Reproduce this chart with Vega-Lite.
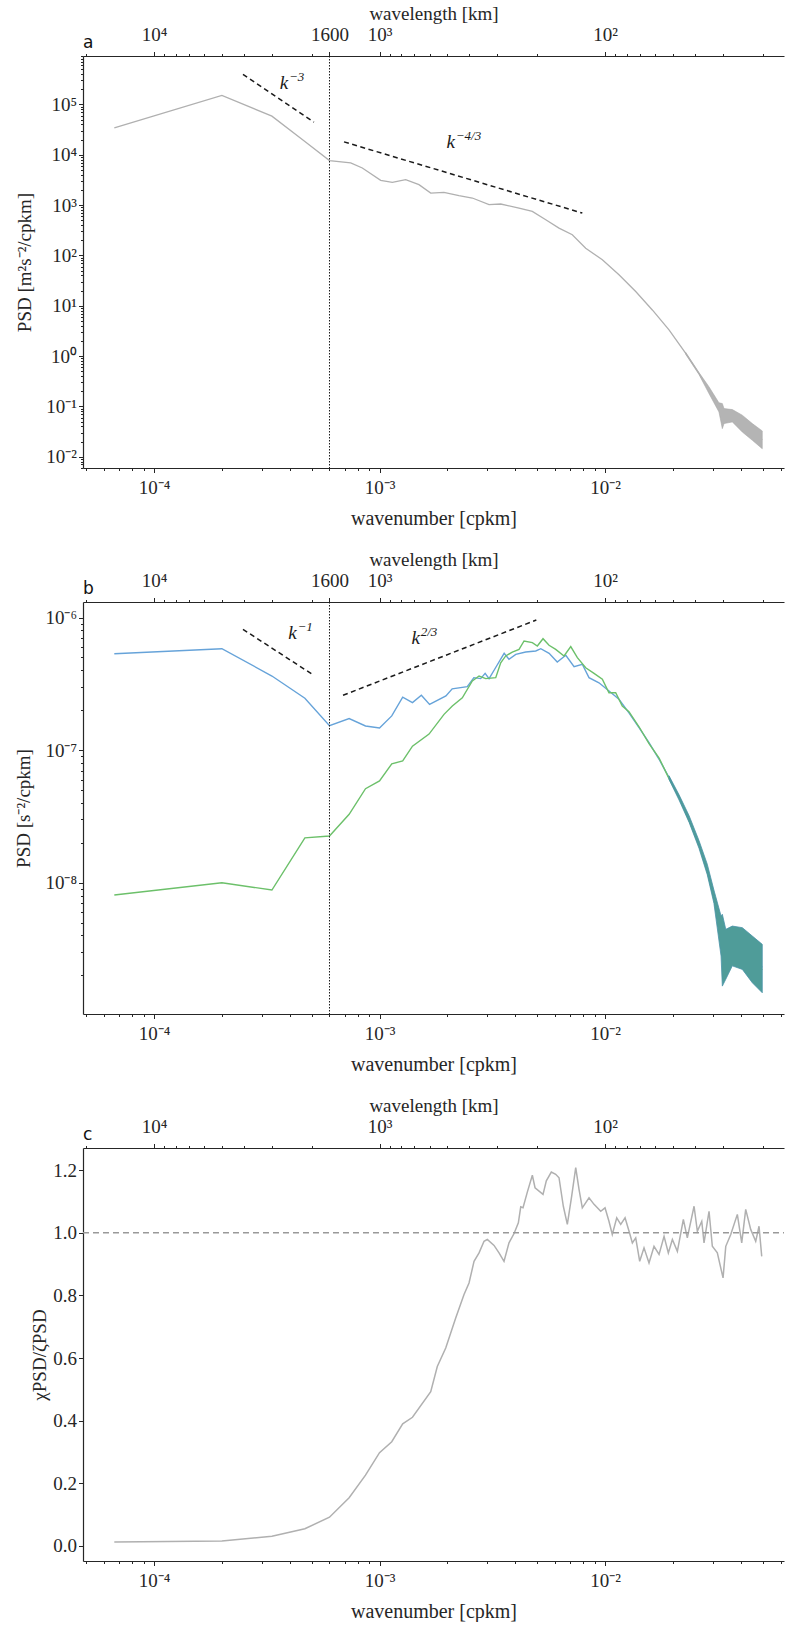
{
"$schema": "https://vega.github.io/schema/vega-lite/v6.json",
"padding": {"left": 14, "top": 4, "right": 0, "bottom": 0},
"spacing": 21,
"config": {
 "view": {"stroke": null},
 "font": "Liberation Serif",
 "axis": {"grid": false, "labelFont": "Liberation Serif", "labelFontSize": 19, "labelColor": "#262626", "titleFont": "Liberation Serif", "titleFontSize": 19, "titleFontWeight": "normal", "titleColor": "#262626", "domainColor": "#262626", "domainWidth": 1.2, "tickColor": "#262626", "tickWidth": 1, "tickSize": 4.5, "labelOverlap": false, "labelFlush": false}
},
"vconcat": [
{
 "width": 701, "height": 412,
 "resolve": {"axis": {"x": "independent", "y": "independent"}},
 "layer": [
  {
   "data": {"values": [
    {"k":6.667e-5,"v":34200},{"k":2.0e-4,"v":151000},{"k":3.333e-4,"v":58500},{"k":4.667e-4,"v":18300},{"k":6.0e-4,"v":7660},{"k":7.45e-4,"v":6870},{"k":8.39e-4,"v":5460},{"k":1.012e-3,"v":3100},{"k":1.14e-3,"v":2830},{"k":1.306e-3,"v":3210},{"k":1.496e-3,"v":2550},{"k":1.687e-3,"v":1730},{"k":1.93e-3,"v":1790},{"k":2.25e-3,"v":1540},{"k":2.58e-3,"v":1380},{"k":3.06e-3,"v":1020},{"k":3.45e-3,"v":1050},{"k":4.155e-3,"v":871},{"k":4.76e-3,"v":749},{"k":5.46e-3,"v":512},{"k":6.25e-3,"v":348},{"k":7.16e-3,"v":257},{"k":8.21e-3,"v":139},{"k":9.73e-3,"v":81.7},{"k":1.153e-2,"v":41.1},{"k":1.368e-2,"v":19.1},{"k":1.621e-2,"v":8.24},{"k":1.922e-2,"v":3.3},{"k":2.28e-2,"v":1.13},{"k":2.61e-2,"v":0.45},{"k":2.89e-2,"v":0.21},{"k":3.2e-2,"v":0.096},{"k":3.313e-2,"v":0.064},{"k":3.37e-2,"v":0.064},{"k":3.67e-2,"v":0.065},{"k":4.06e-2,"v":0.045},{"k":4.5e-2,"v":0.031},{"k":4.98e-2,"v":0.0216}
   ]},
   "mark": {"type": "line", "color": "#b0b0b0", "strokeWidth": 1.3},
   "encoding": {
    "x": {"field": "k", "type": "quantitative", "scale": {"type": "log", "domain": [4.843e-5, 0.06218], "nice": false},
          "axis": {"orient": "bottom", "values": [1e-4, 1e-3, 1e-2], "labelExpr": "datum.value < 0.0005 ? '10⁻⁴' : datum.value < 0.005 ? '10⁻³' : '10⁻²'", "title": "wavenumber [cpkm]", "titleFontSize": 20, "labelPadding": 6, "titlePadding": 11}},
    "y": {"field": "v", "type": "quantitative", "scale": {"type": "log", "domain": [5.96e-3, 9.16e5], "nice": false},
          "axis": {"orient": "left", "values": [0.01, 0.1, 1, 10, 100, 1000, 10000, 100000], "labelExpr": "['10⁻²','10⁻¹','10⁰','10¹','10²','10³','10⁴','10⁵'][round(log(datum.value)/LN10)+2]", "title": "PSD [m²s⁻²/cpkm]", "titlePadding": 11}}
   }
  },
  {
   "data": {"values": [
    {"k":2.28e-2,"lo":1.08,"hi":1.18},{"k":2.61e-2,"lo":0.43,"hi":0.47},{"k":2.89e-2,"lo":0.18,"hi":0.245},{"k":3.2e-2,"lo":0.0776,"hi":0.1175},{"k":3.313e-2,"lo":0.0361,"hi":0.1138},{"k":3.37e-2,"lo":0.0454,"hi":0.0904},{"k":3.67e-2,"lo":0.0491,"hi":0.0863},{"k":4.06e-2,"lo":0.031,"hi":0.0668},{"k":4.5e-2,"lo":0.0212,"hi":0.0454},{"k":4.98e-2,"lo":0.0144,"hi":0.0325}
   ]},
   "mark": {"type": "area", "color": "#b4b4b4", "stroke": "#aaaaaa", "strokeWidth": 0.6},
   "encoding": {
    "x": {"field": "k", "type": "quantitative", "scale": {"type": "log", "domain": [4.843e-5, 0.06218], "nice": false},
          "axis": {"orient": "bottom", "values": [5e-5,6e-5,7e-5,8e-5,9e-5,2e-4,3e-4,4e-4,5e-4,6e-4,7e-4,8e-4,9e-4,2e-3,3e-3,4e-3,5e-3,6e-3,7e-3,8e-3,9e-3,2e-2,3e-2,4e-2,5e-2,6e-2], "labels": false, "domain": false, "tickSize": 2.5, "title": null}},
    "y": {"field": "lo", "type": "quantitative", "scale": {"type": "log", "domain": [5.96e-3, 9.16e5], "nice": false},
          "axis": {"orient": "left", "values": [0.006,0.007,0.008,0.009,0.02,0.03,0.04,0.05,0.06,0.07,0.08,0.09,0.2,0.3,0.4,0.5,0.6,0.7,0.8,0.9,2,3,4,5,6,7,8,9,20,30,40,50,60,70,80,90,200,300,400,500,600,700,800,900,2000,3000,4000,5000,6000,7000,8000,9000,20000,30000,40000,50000,60000,70000,80000,90000,200000,300000,400000,500000,600000,700000,800000,900000], "labels": false, "domain": false, "tickSize": 2.5, "title": null}},
    "y2": {"field": "hi"}
   }
  },
  {
   "data": {"values": [
    {"seg":1,"k":2.48e-4,"v":396000},{"seg":1,"k":5.12e-4,"v":44400},{"seg":2,"k":6.96e-4,"v":18000},{"seg":2,"k":7.93e-3,"v":693}
   ]},
   "mark": {"type": "line", "color": "#1a1a1a", "strokeWidth": 1.5, "strokeDash": [5, 3.5]},
   "encoding": {
    "x": {"field": "k", "type": "quantitative", "scale": {"type": "log", "domain": [4.843e-5, 0.06218], "nice": false},
          "axis": {"orient": "top", "values": [1e-4, 6e-4, 1e-3, 1e-2], "labelExpr": "datum.value < 0.0002 ? '10⁴' : datum.value < 0.0008 ? '1600' : datum.value < 0.005 ? '10³' : '10²'", "title": "wavelength [km]", "labelPadding": 7, "titlePadding": 2}},
    "y": {"field": "v", "type": "quantitative", "scale": {"type": "log", "domain": [5.96e-3, 9.16e5], "nice": false}, "axis": null},
    "detail": {"field": "seg"}
   }
  },
  {
   "data": {"values": [{"k": 6.0e-4}]},
   "mark": {"type": "rule", "color": "#1a1a1a", "strokeWidth": 1, "strokeDash": [1.5, 1.5]},
   "encoding": {
    "x": {"field": "k", "type": "quantitative", "scale": {"type": "log", "domain": [4.843e-5, 0.06218], "nice": false},
          "axis": {"orient": "top", "values": [5e-5,1.11111e-4,1.25e-4,1.42857e-4,1.66667e-4,2e-4,2.5e-4,3.33333e-4,5e-4,1.11111e-3,1.25e-3,1.42857e-3,1.66667e-3,2e-3,2.5e-3,3.33333e-3,5e-3,1.11111e-2,1.25e-2,1.42857e-2,1.66667e-2,2e-2,2.5e-2,3.33333e-2,5e-2], "labels": false, "domain": false, "tickSize": 2.5, "title": null}}
   }
  },
  {
   "data": {"values": [{"k":3.77e-4,"v":202000,"e":"−3"},{"k":2.07e-3,"v":13460,"e":"−4/3"}]},
   "mark": {"type": "text", "text": "k", "font": "Liberation Serif", "fontStyle": "italic", "fontSize": 19, "align": "center", "baseline": "alphabetic", "color": "#1a1a1a"},
   "encoding": {
    "x": {"field": "k", "type": "quantitative", "scale": {"type": "log", "domain": [4.843e-5, 0.06218], "nice": false}, "axis": null},
    "y": {"field": "v", "type": "quantitative", "scale": {"type": "log", "domain": [5.96e-3, 9.16e5], "nice": false}, "axis": null}
   }
  },
  {
   "data": {"values": [{"k":3.77e-4,"v":202000,"e":"−3"},{"k":2.07e-3,"v":13460,"e":"−4/3"}]},
   "mark": {"type": "text", "font": "Liberation Serif", "fontStyle": "italic", "fontSize": 13, "align": "left", "baseline": "alphabetic", "dx": 5, "dy": -8, "color": "#1a1a1a"},
   "encoding": {
    "x": {"field": "k", "type": "quantitative", "scale": {"type": "log", "domain": [4.843e-5, 0.06218], "nice": false}, "axis": null},
    "y": {"field": "v", "type": "quantitative", "scale": {"type": "log", "domain": [5.96e-3, 9.16e5], "nice": false}, "axis": null},
    "text": {"field": "e"}
   }
  },
  {
   "data": {"values": [{"k": 4.843e-5, "v": 9.16e5, "t": "a"}]},
   "mark": {"type": "text", "font": "DejaVu Sans", "fontSize": 17, "align": "left", "baseline": "alphabetic", "dy": -8, "color": "#111111"},
   "encoding": {
    "x": {"field": "k", "type": "quantitative", "scale": {"type": "log", "domain": [4.843e-5, 0.06218], "nice": false}, "axis": null},
    "y": {"field": "v", "type": "quantitative", "scale": {"type": "log", "domain": [5.96e-3, 9.16e5], "nice": false}, "axis": null},
    "text": {"field": "t"}
   }
  }
 ]
},
{
 "width": 701, "height": 412,
 "resolve": {"axis": {"x": "independent", "y": "independent"}},
 "layer": [
  {
   "data": {"values": [
    {"s":"blue","k":6.667e-5,"v":5.33e-7},{"s":"blue","k":2.0e-4,"v":5.82e-7},{"s":"blue","k":3.333e-4,"v":3.62e-7},{"s":"blue","k":4.667e-4,"v":2.46e-7},{"s":"blue","k":6.0e-4,"v":1.53e-7},{"s":"blue","k":7.333e-4,"v":1.73e-7},{"s":"blue","k":8.667e-4,"v":1.52e-7},{"s":"blue","k":1.0e-3,"v":1.47e-7},{"s":"blue","k":1.133e-3,"v":1.81e-7},{"s":"blue","k":1.267e-3,"v":2.51e-7},{"s":"blue","k":1.4e-3,"v":2.28e-7},{"s":"blue","k":1.533e-3,"v":2.59e-7},{"s":"blue","k":1.667e-3,"v":2.21e-7},{"s":"blue","k":1.97e-3,"v":2.56e-7},{"s":"blue","k":2.1e-3,"v":2.9e-7},{"s":"blue","k":2.45e-3,"v":3.01e-7},{"s":"blue","k":2.62e-3,"v":3.52e-7},{"s":"blue","k":2.81e-3,"v":3.46e-7},{"s":"blue","k":2.94e-3,"v":3.79e-7},{"s":"blue","k":3.06e-3,"v":3.46e-7},{"s":"blue","k":3.27e-3,"v":4.18e-7},{"s":"blue","k":3.57e-3,"v":5.37e-7},{"s":"blue","k":3.75e-3,"v":4.84e-7},{"s":"blue","k":4.02e-3,"v":5.27e-7},{"s":"blue","k":4.45e-3,"v":5.49e-7},{"s":"blue","k":4.93e-3,"v":5.59e-7},{"s":"blue","k":5.19e-3,"v":5.82e-7},{"s":"blue","k":5.65e-3,"v":5.37e-7},{"s":"blue","k":6.14e-3,"v":4.62e-7},{"s":"blue","k":6.7e-3,"v":5.19e-7},{"s":"blue","k":7.29e-3,"v":4.26e-7},{"s":"blue","k":7.93e-3,"v":4.44e-7},{"s":"blue","k":8.49e-3,"v":3.52e-7},{"s":"blue","k":9.4e-3,"v":3.22e-7},{"s":"blue","k":1.042e-2,"v":2.79e-7},{"s":"blue","k":1.153e-2,"v":2.42e-7},{"s":"blue","k":1.277e-2,"v":1.91e-7},{"s":"blue","k":1.415e-2,"v":1.48e-7},{"s":"blue","k":1.567e-2,"v":1.14e-7},{"s":"blue","k":1.737e-2,"v":8.53e-8},{"s":"blue","k":1.923e-2,"v":6.2e-8},{"s":"blue","k":2.13e-2,"v":4.38e-8},{"s":"blue","k":2.36e-2,"v":3.01e-8},{"s":"blue","k":2.61e-2,"v":1.95e-8},{"s":"blue","k":2.84e-2,"v":1.26e-8},{"s":"blue","k":3.04e-2,"v":7.94e-9},{"s":"blue","k":3.27e-2,"v":4.0e-9},{"s":"blue","k":4.98e-2,"v":2.3e-9},
    {"s":"green","k":6.667e-5,"v":8.07e-9},{"s":"green","k":2.0e-4,"v":1.0e-8},{"s":"green","k":3.333e-4,"v":8.81e-9},{"s":"green","k":4.667e-4,"v":2.18e-8},{"s":"green","k":6.0e-4,"v":2.25e-8},{"s":"green","k":7.333e-4,"v":3.28e-8},{"s":"green","k":8.667e-4,"v":5.12e-8},{"s":"green","k":1.0e-3,"v":5.85e-8},{"s":"green","k":1.133e-3,"v":7.89e-8},{"s":"green","k":1.267e-3,"v":8.28e-8},{"s":"green","k":1.4e-3,"v":1.07e-7},{"s":"green","k":1.658e-3,"v":1.32e-7},{"s":"green","k":1.932e-3,"v":1.86e-7},{"s":"green","k":2.103e-3,"v":2.15e-7},{"s":"green","k":2.329e-3,"v":2.48e-7},{"s":"green","k":2.58e-3,"v":3.32e-7},{"s":"green","k":2.763e-3,"v":3.62e-7},{"s":"green","k":2.958e-3,"v":3.46e-7},{"s":"green","k":3.276e-3,"v":3.52e-7},{"s":"green","k":3.447e-3,"v":4.56e-7},{"s":"green","k":3.627e-3,"v":5.13e-7},{"s":"green","k":3.88e-3,"v":5.49e-7},{"s":"green","k":4.156e-3,"v":5.75e-7},{"s":"green","k":4.374e-3,"v":6.65e-7},{"s":"green","k":4.761e-3,"v":6.46e-7},{"s":"green","k":5.01e-3,"v":6.1e-7},{"s":"green","k":5.309e-3,"v":6.92e-7},{"s":"green","k":5.646e-3,"v":6.17e-7},{"s":"green","k":6.044e-3,"v":5.75e-7},{"s":"green","k":6.58e-3,"v":5.13e-7},{"s":"green","k":7.047e-3,"v":6.03e-7},{"s":"green","k":7.54e-3,"v":4.98e-7},{"s":"green","k":8.21e-3,"v":4.18e-7},{"s":"green","k":8.938e-3,"v":3.79e-7},{"s":"green","k":9.73e-3,"v":3.42e-7},{"s":"green","k":1.041e-2,"v":2.71e-7},{"s":"green","k":1.115e-2,"v":2.71e-7},{"s":"green","k":1.193e-2,"v":2.15e-7},{"s":"green","k":1.277e-2,"v":1.95e-7},{"s":"green","k":1.415e-2,"v":1.5e-7},{"s":"green","k":1.567e-2,"v":1.12e-7},{"s":"green","k":1.737e-2,"v":8.7e-8},{"s":"green","k":1.923e-2,"v":6.1e-8},{"s":"green","k":2.13e-2,"v":4.4e-8},{"s":"green","k":2.36e-2,"v":2.95e-8},{"s":"green","k":2.61e-2,"v":1.92e-8},{"s":"green","k":2.84e-2,"v":1.22e-8},{"s":"green","k":3.04e-2,"v":7.6e-9},{"s":"green","k":3.27e-2,"v":3.8e-9},{"s":"green","k":4.98e-2,"v":2.2e-9}
   ]},
   "mark": {"type": "line", "strokeWidth": 1.4},
   "encoding": {
    "x": {"field": "k", "type": "quantitative", "scale": {"type": "log", "domain": [4.843e-5, 0.06218], "nice": false},
          "axis": {"orient": "bottom", "values": [1e-4, 1e-3, 1e-2], "labelExpr": "datum.value < 0.0005 ? '10⁻⁴' : datum.value < 0.005 ? '10⁻³' : '10⁻²'", "title": "wavenumber [cpkm]", "titleFontSize": 20, "labelPadding": 6, "titlePadding": 11}},
    "y": {"field": "v", "type": "quantitative", "scale": {"type": "log", "domain": [1.023e-9, 1.309e-6], "nice": false},
          "axis": {"orient": "left", "values": [1e-8, 1e-7, 1e-6], "labelExpr": "['10⁻⁸','10⁻⁷','10⁻⁶'][round(log(datum.value)/LN10)+8]", "title": "PSD [s⁻²/cpkm]", "titlePadding": 11}},
    "color": {"field": "s", "type": "nominal", "scale": {"domain": ["blue", "green"], "range": ["#66a3d9", "#6cc06a"]}, "legend": null}
   }
  },
  {
   "data": {"values": [
    {"k":1.923e-2,"lo":6.0e-8,"hi":6.4e-8},{"k":2.13e-2,"lo":4.2e-8,"hi":4.6e-8},{"k":2.36e-2,"lo":2.85e-8,"hi":3.2e-8},{"k":2.61e-2,"lo":1.82e-8,"hi":2.08e-8},{"k":2.84e-2,"lo":1.15e-8,"hi":1.38e-8},{"k":3.04e-2,"lo":7.0e-9,"hi":8.8e-9},{"k":3.27e-2,"lo":2.8e-9,"hi":5.61e-9},{"k":3.313e-2,"lo":1.66e-9,"hi":5.78e-9},{"k":3.431e-2,"lo":1.87e-9,"hi":4.45e-9},{"k":3.668e-2,"lo":2.36e-9,"hi":4.71e-9},{"k":4.064e-2,"lo":2.22e-9,"hi":4.58e-9},{"k":4.5e-2,"lo":1.76e-9,"hi":3.96e-9},{"k":4.98e-2,"lo":1.48e-9,"hi":3.43e-9}
   ]},
   "mark": {"type": "area", "color": "#4f9c99", "stroke": "#4a93a8", "strokeWidth": 0.8},
   "encoding": {
    "x": {"field": "k", "type": "quantitative", "scale": {"type": "log", "domain": [4.843e-5, 0.06218], "nice": false},
          "axis": {"orient": "bottom", "values": [5e-5,6e-5,7e-5,8e-5,9e-5,2e-4,3e-4,4e-4,5e-4,6e-4,7e-4,8e-4,9e-4,2e-3,3e-3,4e-3,5e-3,6e-3,7e-3,8e-3,9e-3,2e-2,3e-2,4e-2,5e-2,6e-2], "labels": false, "domain": false, "tickSize": 2.5, "title": null}},
    "y": {"field": "lo", "type": "quantitative", "scale": {"type": "log", "domain": [1.023e-9, 1.309e-6], "nice": false},
          "axis": {"orient": "left", "values": [2e-9,3e-9,4e-9,5e-9,6e-9,7e-9,8e-9,9e-9,2e-8,3e-8,4e-8,5e-8,6e-8,7e-8,8e-8,9e-8,2e-7,3e-7,4e-7,5e-7,6e-7,7e-7,8e-7,9e-7], "labels": false, "domain": false, "tickSize": 2.5, "title": null}},
    "y2": {"field": "hi"}
   }
  },
  {
   "data": {"values": [
    {"seg":1,"k":2.48e-4,"v":8.15e-7},{"seg":1,"k":5.12e-4,"v":3.66e-7},{"seg":2,"k":6.89e-4,"v":2.59e-7},{"seg":2,"k":4.958e-3,"v":9.57e-7}
   ]},
   "mark": {"type": "line", "color": "#1a1a1a", "strokeWidth": 1.5, "strokeDash": [5, 3.5]},
   "encoding": {
    "x": {"field": "k", "type": "quantitative", "scale": {"type": "log", "domain": [4.843e-5, 0.06218], "nice": false},
          "axis": {"orient": "top", "values": [1e-4, 6e-4, 1e-3, 1e-2], "labelExpr": "datum.value < 0.0002 ? '10⁴' : datum.value < 0.0008 ? '1600' : datum.value < 0.005 ? '10³' : '10²'", "title": "wavelength [km]", "labelPadding": 7, "titlePadding": 2}},
    "y": {"field": "v", "type": "quantitative", "scale": {"type": "log", "domain": [1.023e-9, 1.309e-6], "nice": false}, "axis": null},
    "detail": {"field": "seg"}
   }
  },
  {
   "data": {"values": [{"k": 6.0e-4}]},
   "mark": {"type": "rule", "color": "#1a1a1a", "strokeWidth": 1, "strokeDash": [1.5, 1.5]},
   "encoding": {
    "x": {"field": "k", "type": "quantitative", "scale": {"type": "log", "domain": [4.843e-5, 0.06218], "nice": false},
          "axis": {"orient": "top", "values": [5e-5,1.11111e-4,1.25e-4,1.42857e-4,1.66667e-4,2e-4,2.5e-4,3.33333e-4,5e-4,1.11111e-3,1.25e-3,1.42857e-3,1.66667e-3,2e-3,2.5e-3,3.33333e-3,5e-3,1.11111e-2,1.25e-2,1.42857e-2,1.66667e-2,2e-2,2.5e-2,3.33333e-2,5e-2], "labels": false, "domain": false, "tickSize": 2.5, "title": null}}
   }
  },
  {
   "data": {"values": [{"k":4.11e-4,"v":6.86e-7,"e":"−1"},{"k":1.447e-3,"v":6.31e-7,"e":"2/3"}]},
   "mark": {"type": "text", "text": "k", "font": "Liberation Serif", "fontStyle": "italic", "fontSize": 19, "align": "center", "baseline": "alphabetic", "color": "#1a1a1a"},
   "encoding": {
    "x": {"field": "k", "type": "quantitative", "scale": {"type": "log", "domain": [4.843e-5, 0.06218], "nice": false}, "axis": null},
    "y": {"field": "v", "type": "quantitative", "scale": {"type": "log", "domain": [1.023e-9, 1.309e-6], "nice": false}, "axis": null}
   }
  },
  {
   "data": {"values": [{"k":4.11e-4,"v":6.86e-7,"e":"−1"},{"k":1.447e-3,"v":6.31e-7,"e":"2/3"}]},
   "mark": {"type": "text", "font": "Liberation Serif", "fontStyle": "italic", "fontSize": 13, "align": "left", "baseline": "alphabetic", "dx": 5, "dy": -8, "color": "#1a1a1a"},
   "encoding": {
    "x": {"field": "k", "type": "quantitative", "scale": {"type": "log", "domain": [4.843e-5, 0.06218], "nice": false}, "axis": null},
    "y": {"field": "v", "type": "quantitative", "scale": {"type": "log", "domain": [1.023e-9, 1.309e-6], "nice": false}, "axis": null},
    "text": {"field": "e"}
   }
  },
  {
   "data": {"values": [{"k": 4.843e-5, "v": 1.309e-6, "t": "b"}]},
   "mark": {"type": "text", "font": "DejaVu Sans", "fontSize": 17, "align": "left", "baseline": "alphabetic", "dy": -8, "color": "#111111"},
   "encoding": {
    "x": {"field": "k", "type": "quantitative", "scale": {"type": "log", "domain": [4.843e-5, 0.06218], "nice": false}, "axis": null},
    "y": {"field": "v", "type": "quantitative", "scale": {"type": "log", "domain": [1.023e-9, 1.309e-6], "nice": false}, "axis": null},
    "text": {"field": "t"}
   }
  }
 ]
},
{
 "width": 701, "height": 413,
 "resolve": {"axis": {"x": "independent", "y": "independent"}},
 "layer": [
  {
   "data": {"values": [
    {"k":6.667e-5,"v":0.013},{"k":2.0e-4,"v":0.016},{"k":3.333e-4,"v":0.031},{"k":4.667e-4,"v":0.055},{"k":6.0e-4,"v":0.092},{"k":7.333e-4,"v":0.154},{"k":8.667e-4,"v":0.226},{"k":1.0e-3,"v":0.298},{"k":1.133e-3,"v":0.333},{"k":1.267e-3,"v":0.39},{"k":1.4e-3,"v":0.411},{"k":1.687e-3,"v":0.493},{"k":1.804e-3,"v":0.573},{"k":1.966e-3,"v":0.632},{"k":2.177e-3,"v":0.728},{"k":2.37e-3,"v":0.803},{"k":2.494e-3,"v":0.84},{"k":2.625e-3,"v":0.909},{"k":2.763e-3,"v":0.936},{"k":2.907e-3,"v":0.973},{"k":3.007e-3,"v":0.979},{"k":3.22e-3,"v":0.96},{"k":3.388e-3,"v":0.936},{"k":3.565e-3,"v":0.909},{"k":3.751e-3,"v":0.968},{"k":3.95e-3,"v":0.998},{"k":4.127e-3,"v":1.032},{"k":4.229e-3,"v":1.083},{"k":4.329e-3,"v":1.08},{"k":4.523e-3,"v":1.13},{"k":4.761e-3,"v":1.184},{"k":4.894e-3,"v":1.144},{"k":5.309e-3,"v":1.123},{"k":5.491e-3,"v":1.166},{"k":5.779e-3,"v":1.194},{"k":6.044e-3,"v":1.187},{"k":6.252e-3,"v":1.176},{"k":6.533e-3,"v":1.085},{"k":6.805e-3,"v":1.027},{"k":7.117e-3,"v":1.118},{"k":7.414e-3,"v":1.208},{"k":7.668e-3,"v":1.139},{"k":7.93e-3,"v":1.08},{"k":8.492e-3,"v":1.112},{"k":8.938e-3,"v":1.091},{"k":9.57e-3,"v":1.069},{"k":1.0e-2,"v":1.08},{"k":1.041e-2,"v":1.037},{"k":1.077e-2,"v":0.995},{"k":1.127e-2,"v":1.048},{"k":1.174e-2,"v":1.027},{"k":1.227e-2,"v":1.048},{"k":1.278e-2,"v":1.005},{"k":1.322e-2,"v":0.968},{"k":1.368e-2,"v":0.984},{"k":1.425e-2,"v":0.909},{"k":1.489e-2,"v":0.952},{"k":1.567e-2,"v":0.904},{"k":1.649e-2,"v":0.957},{"k":1.736e-2,"v":0.931},{"k":1.827e-2,"v":0.989},{"k":1.909e-2,"v":0.936},{"k":1.989e-2,"v":0.979},{"k":2.093e-2,"v":0.941},{"k":2.225e-2,"v":1.043},{"k":2.317e-2,"v":0.984},{"k":2.482e-2,"v":1.085},{"k":2.567e-2,"v":1.005},{"k":2.685e-2,"v":1.037},{"k":2.748e-2,"v":0.968},{"k":2.892e-2,"v":1.069},{"k":2.991e-2,"v":0.957},{"k":3.148e-2,"v":0.936},{"k":3.337e-2,"v":0.856},{"k":3.431e-2,"v":0.957},{"k":3.61e-2,"v":0.995},{"k":3.861e-2,"v":1.059},{"k":4.038e-2,"v":0.968},{"k":4.206e-2,"v":1.075},{"k":4.426e-2,"v":1.011},{"k":4.658e-2,"v":0.973},{"k":4.818e-2,"v":1.021},{"k":4.953e-2,"v":0.925}
   ]},
   "mark": {"type": "line", "color": "#b0b0b0", "strokeWidth": 1.5},
   "encoding": {
    "x": {"field": "k", "type": "quantitative", "scale": {"type": "log", "domain": [4.843e-5, 0.06218], "nice": false},
          "axis": {"orient": "bottom", "values": [1e-4, 1e-3, 1e-2], "labelExpr": "datum.value < 0.0005 ? '10⁻⁴' : datum.value < 0.005 ? '10⁻³' : '10⁻²'", "title": "wavenumber [cpkm]", "titleFontSize": 20, "labelPadding": 6, "titlePadding": 11}},
    "y": {"field": "v", "type": "quantitative", "scale": {"domain": [-0.048, 1.271], "nice": false, "zero": false},
          "axis": {"orient": "left", "values": [0, 0.2, 0.4, 0.6, 0.8, 1.0, 1.2], "format": ".1f", "title": "χPSD/ζPSD", "titlePadding": 3}}
   }
  },
  {
   "data": {"values": [{"k": 4.843e-5, "v": 1.0}, {"k": 0.06218, "v": 1.0}]},
   "mark": {"type": "line", "color": "#999999", "strokeWidth": 1.5, "strokeDash": [6, 4]},
   "encoding": {
    "x": {"field": "k", "type": "quantitative", "scale": {"type": "log", "domain": [4.843e-5, 0.06218], "nice": false},
          "axis": {"orient": "top", "values": [1e-4, 1e-3, 1e-2], "labelExpr": "datum.value < 0.0002 ? '10⁴' : datum.value < 0.005 ? '10³' : '10²'", "title": "wavelength [km]", "labelPadding": 7, "titlePadding": 2}},
    "y": {"field": "v", "type": "quantitative", "scale": {"domain": [-0.048, 1.271], "nice": false, "zero": false}, "axis": null}
   }
  },
  {
   "data": {"values": [{"k": 4.843e-5, "v": 1.271, "t": "c"}]},
   "mark": {"type": "text", "font": "DejaVu Sans", "fontSize": 17, "align": "left", "baseline": "alphabetic", "dy": -8, "color": "#111111"},
   "encoding": {
    "x": {"field": "k", "type": "quantitative", "scale": {"type": "log", "domain": [4.843e-5, 0.06218], "nice": false},
          "axis": {"orient": "top", "values": [5e-5,1.11111e-4,1.25e-4,1.42857e-4,1.66667e-4,2e-4,2.5e-4,3.33333e-4,5e-4,1.11111e-3,1.25e-3,1.42857e-3,1.66667e-3,2e-3,2.5e-3,3.33333e-3,5e-3,1.11111e-2,1.25e-2,1.42857e-2,1.66667e-2,2e-2,2.5e-2,3.33333e-2,5e-2], "labels": false, "domain": false, "tickSize": 2.5, "title": null}},
    "y": {"field": "v", "type": "quantitative", "scale": {"domain": [-0.048, 1.271], "nice": false, "zero": false}, "axis": null},
    "text": {"field": "t"}
   }
  },
  {
   "data": {"values": [{"k": 4.843e-5, "v": 1.0}, {"k": 0.06218, "v": 1.0}]},
   "mark": {"type": "line", "opacity": 0},
   "encoding": {
    "x": {"field": "k", "type": "quantitative", "scale": {"type": "log", "domain": [4.843e-5, 0.06218], "nice": false},
          "axis": {"orient": "bottom", "values": [5e-5,6e-5,7e-5,8e-5,9e-5,2e-4,3e-4,4e-4,5e-4,6e-4,7e-4,8e-4,9e-4,2e-3,3e-3,4e-3,5e-3,6e-3,7e-3,8e-3,9e-3,2e-2,3e-2,4e-2,5e-2,6e-2], "labels": false, "domain": false, "tickSize": 2.5, "title": null}},
    "y": {"field": "v", "type": "quantitative", "scale": {"domain": [-0.048, 1.271], "nice": false, "zero": false}, "axis": null}
   }
  }
 ]
}
]
}
